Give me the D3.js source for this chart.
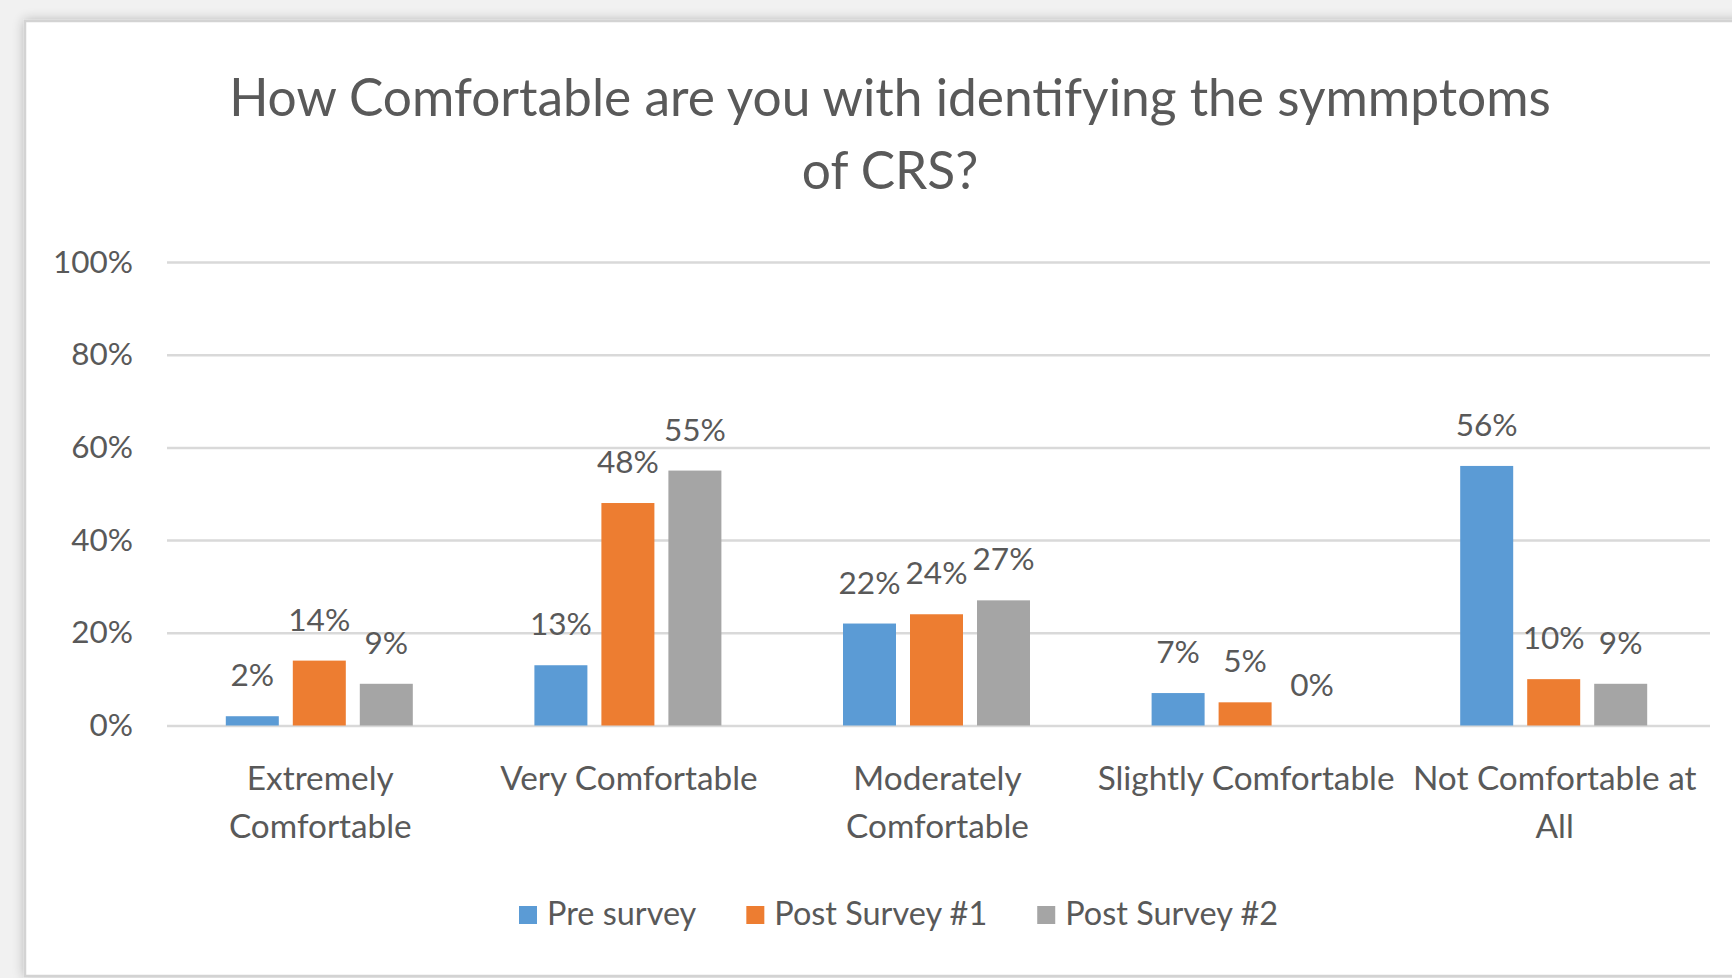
<!DOCTYPE html>
<html>
<head>
<meta charset="utf-8">
<script src="https://cdn.jsdelivr.net/npm/d3@7"></script>
<style>
  html, body { margin: 0; padding: 0; background: #f1f1f1; overflow: hidden; }
  svg { display: block; }
  text { font-family: Lato, "Open Sans", sans-serif; fill: #595959; }
</style>
</head>
<body>
<svg id="chart" width="1732" height="978"></svg>
<script>
// ---- Data ----
const categories = ["Extremely Comfortable", "Very Comfortable", "Moderately Comfortable", "Slightly Comfortable", "Not Comfortable at All"];
const categoryLines = [["Extremely", "Comfortable"], ["Very Comfortable"], ["Moderately", "Comfortable"], ["Slightly Comfortable"], ["Not Comfortable at", "All"]];
const seriesNames = ["Pre survey", "Post Survey #1", "Post Survey #2"];
const preSurvey   = [0.02, 0.13, 0.22, 0.07, 0.56];
const postSurvey1 = [0.14, 0.48, 0.24, 0.05, 0.10];
const postSurvey2 = [0.09, 0.55, 0.27, 0.00, 0.09];
const seriesColors = ["#5B9BD5", "#ED7D31", "#A5A5A5"];
const yTickValues = [0, 0.2, 0.4, 0.6, 0.8, 1.0];
const titleLines = ["How Comfortable are you with identifying the symmptoms", "of CRS?"];

const seriesValues = [preSurvey, postSurvey1, postSurvey2];
const rows = categories.map((c, i) => ({
  category: c,
  values: seriesNames.map((s, j) => ({ series: s, value: seriesValues[j][i], color: seriesColors[j] }))
}));

// ---- Layout ----
const svg = d3.select("#chart");
const plot = { left: 167, right: 1710, top: 262, bottom: 725.5 };

// shadow filter
const defs = svg.append("defs");
const f = defs.append("filter").attr("id", "shadow").attr("x", "-5%").attr("y", "-5%").attr("width", "110%").attr("height", "110%");
f.append("feGaussianBlur").attr("in", "SourceAlpha").attr("stdDeviation", 6);
f.append("feOffset").attr("dx", 0).attr("dy", 0).attr("result", "b");
f.append("feComponentTransfer").append("feFuncA").attr("type", "linear").attr("slope", 0.25);
const m = f.append("feMerge"); m.append("feMergeNode"); m.append("feMergeNode").attr("in", "SourceGraphic");

// panel
svg.append("rect").attr("x", 25).attr("y", 21).attr("width", 1760).attr("height", 955)
  .attr("fill", "#ffffff").attr("stroke", "#d3d3d3").attr("stroke-width", 2.5)
  .attr("filter", "url(#shadow)");

function fitSize(sample, target, weight) {
  const t = svg.append("text").style("font-size", "100px").style("font-weight", weight || 400).text(sample);
  const w = t.node().getComputedTextLength();
  t.remove();
  return 100 * target / w;
}
const titleSize = fitSize(titleLines[0], 1322);
const tickSize = fitSize("100%", 80);
const labelSize = fitSize("56%", 62);
const catSize = fitSize("Slightly Comfortable", 297);
const legendSize = fitSize("Post Survey #2", 213);

// scales
const x0 = d3.scaleBand().domain(categories).range([plot.left, plot.right]).paddingInner(0).paddingOuter(0);
const groupW = 187;
const x1 = d3.scaleBand().domain(seriesNames).range([0, groupW]).paddingInner(14 / 67).paddingOuter(0);
const y = d3.scaleLinear().domain([0, 1]).range([plot.bottom, plot.top]);

// title
const titleG = svg.append("g");
titleG.selectAll("text").data(titleLines).join("text")
  .attr("x", 890).attr("y", (d, i) => 116 + i * 73)
  .attr("text-anchor", "middle").style("font-size", titleSize + "px").text(d => d);

// gridlines
const grid = svg.append("g").attr("transform", `translate(${plot.left},0)`)
  .call(d3.axisLeft(y).tickValues(yTickValues).tickSize(-(plot.right - plot.left)).tickFormat(""));
grid.select(".domain").remove();
grid.selectAll("line").attr("stroke", "#d9d9d9").attr("stroke-width", 2.5);

// y tick labels
const yAxis = svg.append("g").attr("transform", `translate(133,0)`)
  .call(d3.axisLeft(y).tickValues(yTickValues).tickSize(0).tickPadding(0).tickFormat(d3.format(".0%")));
yAxis.select(".domain").remove();
yAxis.selectAll("text").style("font-size", tickSize + "px").attr("dy", null).attr("y", 10)
  .attr("fill", "#595959").style("font-family", "Lato, sans-serif");

// bars
const groups = svg.append("g").selectAll("g").data(rows).join("g")
  .attr("transform", d => `translate(${x0(d.category) + (x0.bandwidth() - groupW) / 2 - 2},0)`);
groups.selectAll("rect").data(d => d.values).join("rect")
  .attr("x", d => x1(d.series)).attr("width", x1.bandwidth())
  .attr("y", d => y(d.value)).attr("height", d => y(0) - y(d.value))
  .attr("fill", d => d.color);
groups.selectAll("text").data(d => d.values).join("text")
  .attr("x", d => x1(d.series) + x1.bandwidth() / 2)
  .attr("y", d => y(d.value) - 30)
  .attr("text-anchor", "middle").style("font-size", labelSize + "px")
  .text(d => d3.format(".0%")(d.value));

// x axis labels
const xAxis = svg.append("g").attr("transform", `translate(0,${plot.bottom})`)
  .call(d3.axisBottom(x0).tickSize(0).tickFormat(""));
xAxis.select(".domain").remove();
xAxis.selectAll(".tick").each(function(d, i) {
  const t = d3.select(this).append("text").attr("text-anchor", "middle")
    .style("font-size", catSize + "px").attr("fill", "#595959").style("font-family", "Lato, sans-serif");
  t.selectAll("tspan").data(categoryLines[i]).join("tspan")
    .attr("x", -1).attr("y", (l, k) => 64 + k * 48).text(l => l);
});

// legend
const legend = svg.append("g");
let lx = 519;
seriesNames.forEach((s, i) => {
  legend.append("rect").attr("x", lx).attr("y", 906).attr("width", 18).attr("height", 18).attr("fill", seriesColors[i]);
  const t = legend.append("text").attr("x", lx + 28).attr("y", 925).style("font-size", legendSize + "px").text(s);
  lx = lx + 28 + t.node().getComputedTextLength() + 50;
});
</script>
</body>
</html>
